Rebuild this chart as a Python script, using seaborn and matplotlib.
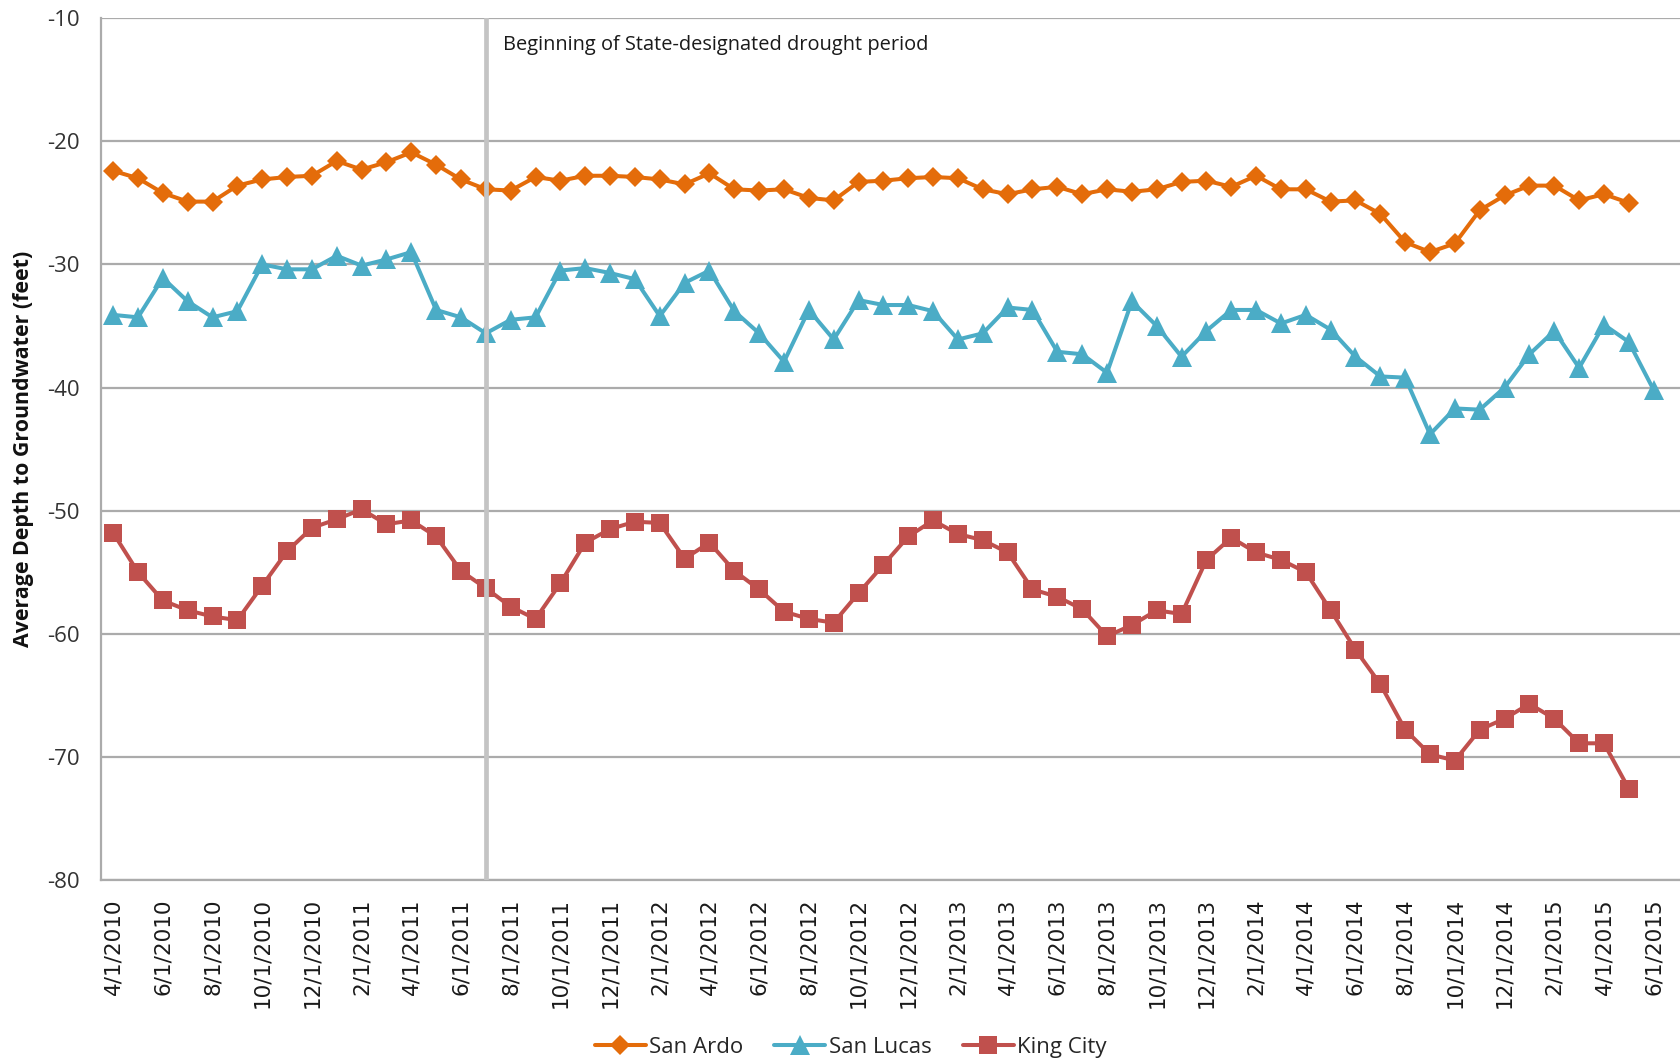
import numpy as np
import pandas as pd
import matplotlib
matplotlib.use("Agg")
import matplotlib.pyplot as plt
import seaborn as sns

# ---------------- data ----------------
months = pd.date_range("2010-04-01", "2015-07-01", freq="MS")
month_labels = [f"{d.month}/1/{d.year}" for d in months]

san_ardo = [-22.4, -23.0, -24.2, -24.9, -24.9, -23.6, -23.1, -22.9, -22.8, -21.6,
            -22.3, -21.7, -20.9, -21.9, -23.1, -23.9, -24.0, -22.9, -23.2, -22.8,
            -22.8, -22.9, -23.1, -23.5, -22.6, -23.9, -24.0, -23.9, -24.6, -24.8,
            -23.3, -23.2, -23.0, -22.9, -23.0, -23.9, -24.3, -23.9, -23.7, -24.3,
            -23.9, -24.1, -23.9, -23.3, -23.2, -23.7, -22.8, -23.9, -23.9, -24.9,
            -24.8, -25.9, -28.2, -29.0, -28.3, -25.6, -24.4, -23.6, -23.6, -24.8,
            -24.3, -25.0]

san_lucas = [-34.1, -34.3, -31.1, -33.0, -34.3, -33.8, -30.0, -30.4, -30.4, -29.3,
             -30.1, -29.6, -29.0, -33.7, -34.3, -35.6, -34.5, -34.3, -30.5, -30.3,
             -30.7, -31.2, -34.2, -31.5, -30.5, -33.8, -35.6, -37.9, -33.7, -36.1,
             -32.9, -33.3, -33.3, -33.8, -36.1, -35.6, -33.5, -33.7, -37.1, -37.3,
             -38.8, -33.0, -35.0, -37.5, -35.4, -33.7, -33.7, -34.8, -34.1, -35.3,
             -37.5, -39.1, -39.2, -43.8, -41.7, -41.8, -40.0, -37.3, -35.4, -38.4,
             -34.9, -36.3, -40.2]

king_city = [-51.8, -55.0, -57.3, -58.1, -58.6, -58.9, -56.1, -53.3, -51.4, -50.7,
             -49.9, -51.1, -50.8, -52.1, -54.9, -56.3, -57.8, -58.8, -55.9, -52.6,
             -51.5, -50.9, -51.0, -53.9, -52.6, -54.9, -56.4, -58.2, -58.8, -59.1,
             -56.7, -54.4, -52.1, -50.8, -51.9, -52.4, -53.4, -56.4, -57.0, -58.0,
             -60.2, -59.3, -58.1, -58.4, -54.0, -52.2, -53.4, -54.0, -55.0, -58.1,
             -61.3, -64.1, -67.8, -69.8, -70.3, -67.8, -66.9, -65.7, -66.9, -68.9,
             -68.9, -72.6]

series_names = ["San Ardo", "San Lucas", "King City"]
series_values = [san_ardo, san_lucas, king_city]
series_colors = ["#E46C0A", "#4BACC6", "#C0504D"]
series_markers = ["D", "^", "s"]
series_msize = [10.6, 14.0, 13.4]

drought_start = "7/1/2011"
drought_text = "Beginning of State-designated drought period"
y_ticks = [-80, -70, -60, -50, -40, -30, -20, -10]
y_label = "Average Depth to Groundwater (feet)"

# ---------------- style ----------------
sns.set_style("white")
plt.rcParams["font.family"] = ["Open Sans", "DejaVu Sans"]

fig = plt.figure(figsize=(16.81, 10.63), dpi=100)
ax = fig.add_axes([0.0599, 0.1722, 0.9401, 0.8107])

grid_col = "#ABABAB"
for name, vals, col, mk, ms in zip(series_names, series_values, series_colors,
                                   series_markers, series_msize):
    df = pd.DataFrame({"idx": np.arange(len(vals)), "depth": vals})
    sns.lineplot(data=df, x="idx", y="depth", ax=ax, color=col, marker=mk,
                 markersize=ms, markeredgewidth=0, linewidth=2.9, label=name,
                 zorder=3)

# drought line
d_idx = month_labels.index(drought_start)
ax.axvline(d_idx, color="#C4C4C4", linewidth=3.4, zorder=5)
ax.text(d_idx + 0.68, -12.2, drought_text, fontsize=14.4, color="#1a1a1a",
        ha="left", va="center", family=["Open Sans", "DejaVu Sans"])

# axes
ax.set_xlim(-0.5, 63.1)
ax.set_ylim(-80, -10)
ax.set_yticks(y_ticks)
ax.set_yticklabels([str(v) for v in y_ticks], fontsize=16, color="#333333")
ax.yaxis.grid(True, color=grid_col, linewidth=1.6, zorder=0)
ax.xaxis.grid(False)
ax.set_axisbelow(True)

lab_idx = list(range(0, 63, 2))
ax.set_xticks(lab_idx)
ax.set_xticklabels([month_labels[i] for i in lab_idx], rotation=90,
                   fontsize=15.5, family=["DejaVu Sans"], color="#1a1a1a")
ax.set_xticks([i - 0.5 for i in range(0, 63, 2)], minor=True)
ax.tick_params(axis="x", which="major", length=0, pad=13)
ax.tick_params(axis="x", which="minor", length=7, width=1.3, color=grid_col,
               direction="out")
ax.tick_params(axis="y", which="major", length=7, width=1.3, color=grid_col,
               direction="out", pad=8)

for s in ["top", "right"]:
    ax.spines[s].set_visible(False)
for s in ["left", "bottom"]:
    ax.spines[s].set_color(grid_col)
    ax.spines[s].set_linewidth(1.6)

ax.set_xlabel("")
ax.set_ylabel(y_label, fontsize=15.4, fontweight="bold", color="#111111")
ax.yaxis.set_label_coords(-0.0425, 0.5)

handles, labels = ax.get_legend_handles_labels()
if ax.get_legend() is not None:
    ax.get_legend().remove()
fig.legend(handles, labels, loc="center", bbox_to_anchor=(0.506, 0.0145),
           ncol=3, frameon=False, fontsize=16, handlelength=2.3,
           handletextpad=0.15, columnspacing=1.4)

fig.savefig("out.png", dpi=100)
